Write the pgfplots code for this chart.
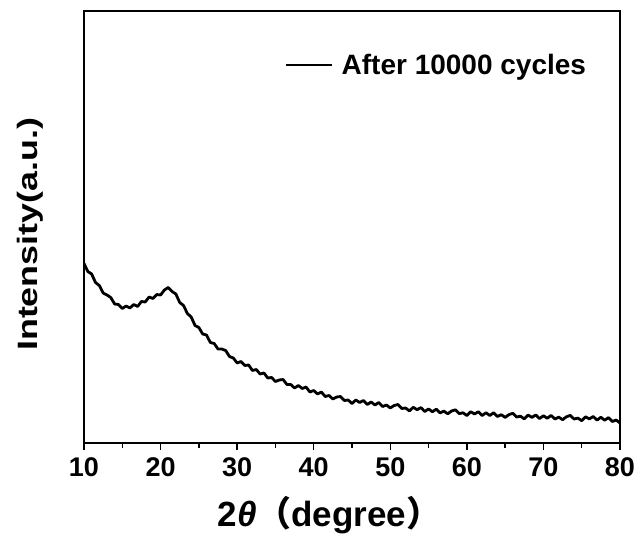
\documentclass[border=0pt]{standalone}
\usepackage{fontspec}
\setmainfont{Liberation Sans}
\newfontfamily\tickfont{Liberation Sans}
\newfontfamily\ylabfont{Liberation Sans}[FakeStretch=1.28]
\newfontfamily\cjk{Noto Sans CJK SC}
\usepackage{pgfplots}
\pgfplotsset{compat=1.18}
\begin{document}
\begin{tikzpicture}
\begin{axis}[
  width=536pt, height=432pt, scale only axis,
  xmin=10, xmax=80, ymin=0, ymax=432,
  ytick=\empty,
  xtick={10,20,...,80},
  minor x tick num=1,
  tick align=outside,
  xtick pos=bottom,
  major tick length=7pt, minor tick length=4.5pt,
  axis line style={line width=1.6pt},
  every tick/.style={black, line width=1.4pt},
  /pgf/number format/assume math mode=true,
  xticklabel style={font=\tickfont\bfseries\fontsize{27}{27}\selectfont, yshift=-4pt},
  xlabel={\tickfont\bfseries 2\textit{θ}{\cjk\bfseries （}degree{\cjk\bfseries ）}},
  xlabel style={font=\fontsize{35}{35}\selectfont, at={(axis description cs:0.458,-0.194)}, anchor=base},
  ylabel={\ylabfont\bfseries Intensity(a.u.)},
  ylabel style={font=\fontsize{28}{28}\selectfont, at={(axis description cs:-0.101,0.483)}, anchor=center, rotate=0},
  legend style={at={(axis description cs:0.375,0.875)}, anchor=west, draw=none, fill=none,
    font=\tickfont\bfseries\fontsize{28}{28}\selectfont, inner xsep=0pt},
  legend cell align=left,
  legend image code/.code={\draw[line width=2.2pt] (0pt,0pt) -- (46pt,0pt); \path (52pt,0pt);},
]
\addplot[black, line width=2.8pt, line join=round] coordinates {
(10,179.5)(10.5,171.5)(11,169)(11.5,160.5)(12,157.5)(12.5,150)(13,148)(13.5,145.5)(14,139)(14.5,138.5)
(15,134.5)(15.5,137)(16,135)(16.5,138.5)(17,136.5)(17.5,141.5)(18,141)(18.5,146)(19,144.5)(19.5,148.5)
(20,148)(20.5,153)(21,155.5)(21.5,151.5)(22,149)(22.5,140.5)(23,137.5)(23.5,129.5)(24,126)(24.5,117.5)
(25,115.5)(25.5,109)(26,108)(26.5,100.5)(27,99.5)(27.5,94)(28,94)(28.5,92.5)(29,86.5)(29.5,85)
(30,80)(30.5,81.5)(31,77.5)(31.5,78)(32,72.5)(32.5,73.5)(33,69)(33.5,70)(34,65)(34.5,65.5)
(35,61.5)(35.5,63)(36,63.5)(36.5,58.5)(37,58.5)(37.5,55)(38,57.5)(38.5,54.5)(39,56)(39.5,51)
(40,52.5)(40.5,49)(41,51)(41.5,46.5)(42,47.5)(42.5,44)(43,46)(43.5,46.5)(44,42.5)(44.5,43)
(45,39.5)(45.5,43)(46,40.5)(46.5,42.5)(47,38.5)(47.5,41)(48,38)(48.5,40.5)(49,36.5)(49.5,38)
(50,35)(50.5,37.5)(51,38.5)(51.5,34.5)(52,35)(52.5,32.1)(53,35.7)(53.5,33.3)(54,35.4)(54.5,31.5)
(55,34.1)(55.5,31.2)(56,33.8)(56.5,30.1)(57,31.9)(57.5,29.2)(58,32)(58.5,33.2)(59,29.4)(59.5,30.2)
(60,27.5)(60.5,31.25)(61,29)(61.5,31.25)(62,27.5)(62.5,30.25)(63,27.5)(63.5,30.25)(64,26.5)(64.5,28.3)
(65,25.6)(65.5,28.4)(66,29.7)(66.5,26)(67,26.8)(67.5,24.1)(68,27.9)(68.5,25.7)(69,28)(69.5,24.4)
(70,27.3)(70.5,24.7)(71,27.6)(71.5,24)(72,25.9)(72.5,23.3)(73,26.2)(73.5,27.6)(74,24)(74.5,24.9)
(75,22.3)(75.5,26.2)(76,24.1)(76.5,26.5)(77,22.9)(77.5,25.7)(78,22.8)(78.5,25.4)(79,21.5)(79.5,23)
(80,20)
};
\addlegendentry{After 10000 cycles}
\coordinate (bl) at (rel axis cs:0,0);
\coordinate (tr) at (rel axis cs:1,1);
\end{axis}
\path (bl) +(-84pt,-98pt) coordinate (A);
\path (tr) +(21pt,11pt) coordinate (B);
\path (A) rectangle (B);
\end{tikzpicture}
\end{document}
